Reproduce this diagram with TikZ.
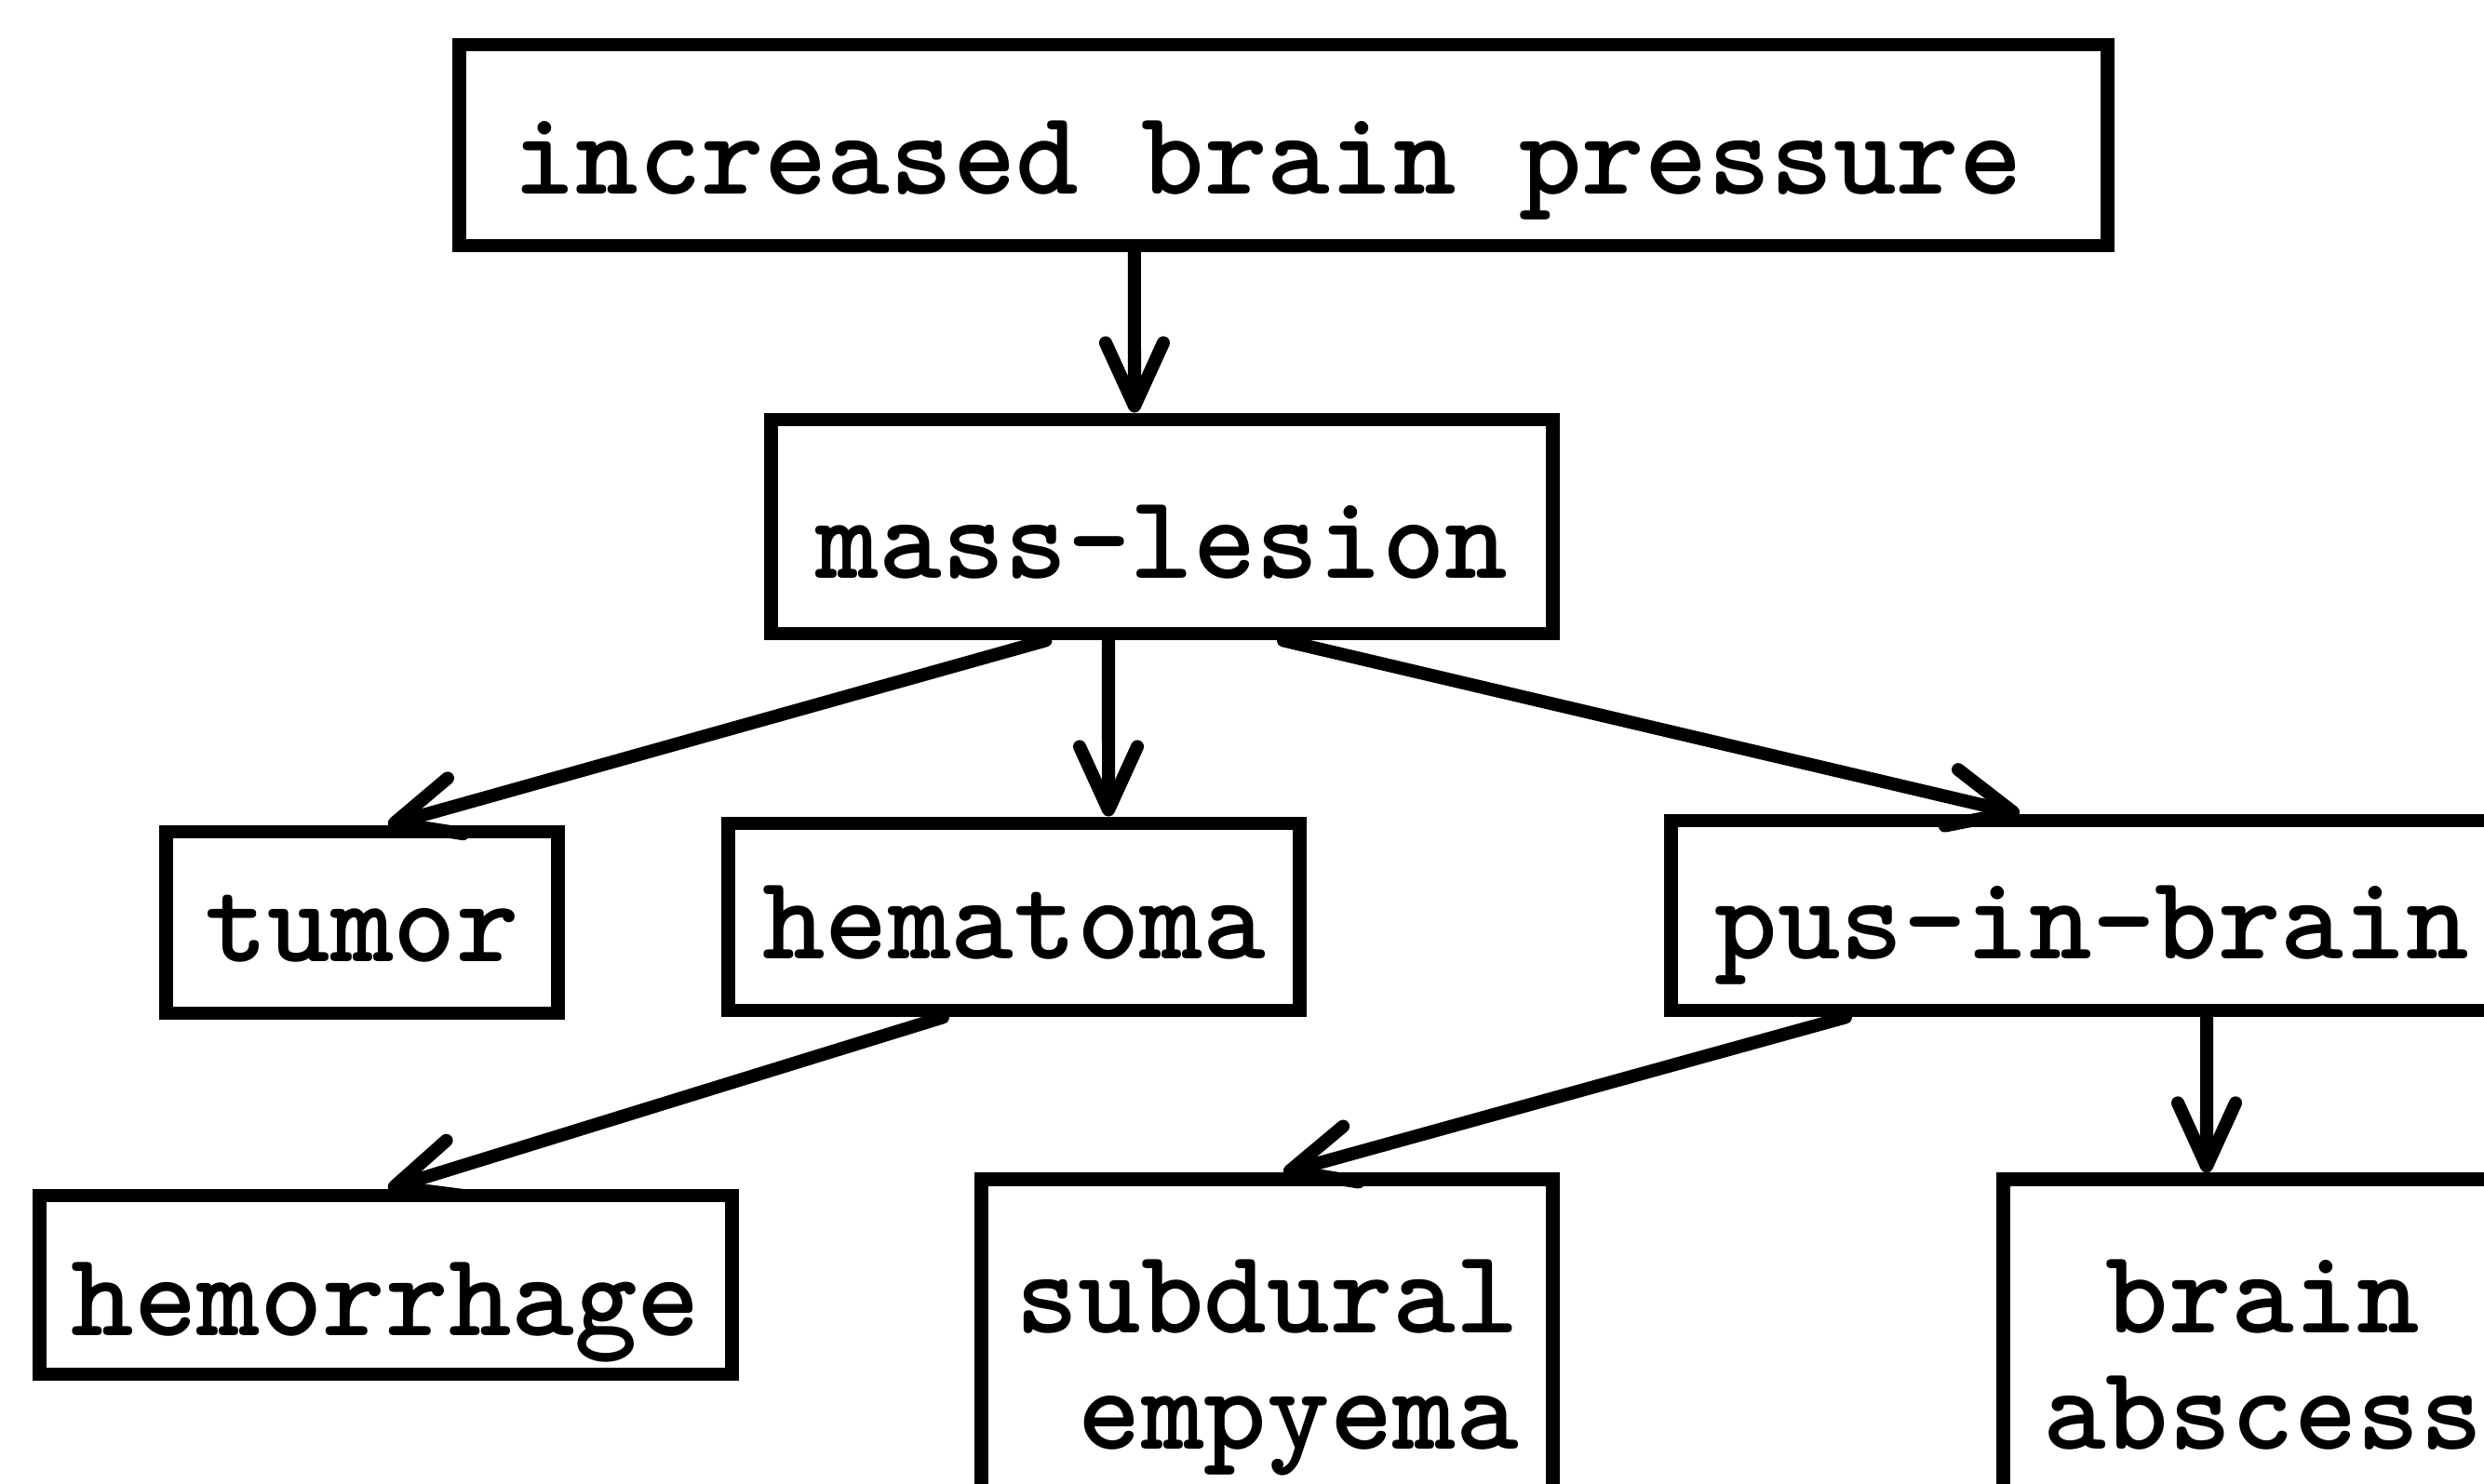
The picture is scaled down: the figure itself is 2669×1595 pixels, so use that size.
\documentclass[tikz,border=0pt]{standalone}
\usepackage{fontspec}
\usetikzlibrary{arrows.meta}
\begin{document}
\begin{tikzpicture}[x=0.01cm,y=-0.01cm,
  box/.style={draw, line width=4.2pt, inner sep=0pt,
    font=\ttfamily\bfseries\fontsize{36.6}{35.3}\selectfont, text depth=0.2cm},
  link/.style={line width=4pt, line cap=round,
    -{Straight Barb[length=0.68cm,width=0.62cm,line cap=round,line join=round]}},
]
\useasboundingbox (0,0) rectangle (2669,1595);
\clip (0,0) rectangle (2669,1595);

% boxes
\node[box, minimum width=17.70cm, minimum height=2.16cm, text height=1.24cm]
  (pressure) at (1379,156) {increased brain pressure\hspace*{0.34cm}};
\node[box, minimum width=8.39cm, minimum height=2.30cm, text height=1.30cm]
  (mass) at (1248.5,566) {mass-lesion};
\node[box, minimum width=4.20cm, minimum height=1.95cm, text height=1.04cm]
  (tumor) at (389,991.5) {tumor};
\node[box, minimum width=6.13cm, minimum height=2.01cm, text height=1.10cm]
  (hematoma) at (1089.5,985.5) {hematoma};
\node[box, minimum width=9.04cm, minimum height=2.04cm, text height=1.12cm]
  (pus) at (2248,984) {pus-in-brain};
\node[box, minimum width=7.43cm, minimum height=1.92cm, text height=1.28cm]
  (hemorrhage) at (414.5,1381) {hemorrhage};
\node[box, minimum width=6.13cm, minimum height=4.32cm, text height=0.30cm, text depth=1.32cm]
  (subdural) at (1361.5,1484) {\begin{tabular}[t]{@{}r@{}}subdural\\empyema\end{tabular}};
\node[box, minimum width=5.57cm, minimum height=4.32cm, text height=0.30cm, text depth=1.32cm]
  (abscess) at (2431.5,1484) {\begin{tabular}[t]{@{}c@{}}brain\\abscess\end{tabular}};

% connectors
\draw[link] ([xshift=-1.60cm]pressure.south) -- ([xshift=-0.295cm]mass.north);
\draw[link] ([xshift=-1.25cm]mass.south) -- ([xshift=0.28cm]tumor.north);
\draw[link] ([xshift=-0.575cm]mass.south) -- ([xshift=1.015cm]hematoma.north);
\draw[link] ([xshift=1.305cm]mass.south) -- ([xshift=-0.78cm]pus.north);
\draw[link] ([xshift=-0.765cm]hematoma.south) -- ([xshift=0.025cm]hemorrhage.north);
\draw[link] ([xshift=-2.65cm]pus.south) -- ([xshift=0.175cm]subdural.north);
\draw[link] ([xshift=1.23cm]pus.south) -- ([xshift=-0.605cm]abscess.north);
\end{tikzpicture}
\end{document}
